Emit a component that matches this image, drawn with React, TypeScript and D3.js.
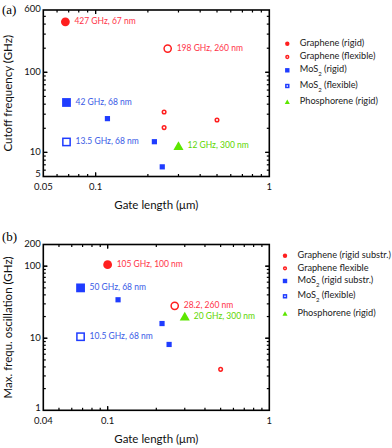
import React from "react";
import * as d3 from "d3";

// ---------- Data ----------
// Panel (a): cutoff frequency vs gate length
const aHighlights = [
  { series: "grRigid", x: 0.067, y: 427, label: "427 GHz, 67 nm" },
  { series: "grFlex", x: 0.26, y: 198, label: "198 GHz, 260 nm" },
  { series: "mosRigid", x: 0.068, y: 42, label: "42 GHz, 68 nm" },
  { series: "mosFlex", x: 0.068, y: 13.5, label: "13.5 GHz, 68 nm" },
  { series: "phos", x: 0.3, y: 12, label: "12 GHz, 300 nm" },
];
const aGrapheneFlexOthers = [
  { x: 0.248, y: 32 },
  { x: 0.248, y: 20.4 },
  { x: 0.5, y: 25.4 },
];
const aMoS2RigidOthers = [
  { x: 0.117, y: 26.4 },
  { x: 0.218, y: 13.6 },
  { x: 0.242, y: 6.6 },
];
const aXDomain = [0.05, 1];
const aYDomain = [5, 600];
const aXTickLabels = [0.05, 0.1, 1];
const aYTickLabels = [5, 10, 100, 600];
const aLegend = [
  { series: "grRigid", text: "Graphene (rigid)" },
  { series: "grFlex", text: "Graphene (flexible)" },
  { series: "mosRigid", text: "MoS|2| (rigid)" },
  { series: "mosFlex", text: "MoS|2| (flexible)" },
  { series: "phos", text: "Phosphorene (rigid)" },
];

// Panel (b): max frequency of oscillation vs gate length
const bHighlights = [
  { series: "grRigid", x: 0.1, y: 105, label: "105 GHz, 100 nm" },
  { series: "grFlex", x: 0.26, y: 28.2, label: "28.2, 260 nm" },
  { series: "mosRigid", x: 0.068, y: 50, label: "50 GHz, 68 nm" },
  { series: "mosFlex", x: 0.068, y: 10.5, label: "10.5 GHz, 68 nm" },
  { series: "phos", x: 0.3, y: 20, label: "20 GHz, 300 nm" },
];
const bGrapheneFlexOthers = [{ x: 0.5, y: 3.7 }];
const bMoS2RigidOthers = [
  { x: 0.116, y: 34.2 },
  { x: 0.217, y: 16 },
  { x: 0.24, y: 8.2 },
];
const bXDomain = [0.04, 1];
const bYDomain = [1, 200];
const bXTickLabels = [0.04, 0.1, 1];
const bYTickLabels = [1, 10, 100, 200];
const bLegend = [
  { series: "grRigid", text: "Graphene (rigid substr.)" },
  { series: "grFlex", text: "Graphene flexible" },
  { series: "mosRigid", text: "MoS|2| (rigid substr.)" },
  { series: "mosFlex", text: "MoS|2| (flexible)" },
  { series: "phos", text: "Phosphorene (rigid)" },
];

// ---------- Styles ----------
const RED = "#ff1f1f";
const RED_TXT = "#ff3348";
const BLUE = "#1f3cff";
const BLUE_TXT = "#3a5be6";
const GREEN = "#5de600";
const GREEN_TXT = "#5ed600";
const FONT = "Lato, 'Open Sans', sans-serif";

const seriesColor: Record<string, string> = {
  grRigid: RED, grFlex: RED, mosRigid: BLUE, mosFlex: BLUE, phos: GREEN,
};
const seriesText: Record<string, string> = {
  grRigid: RED_TXT, grFlex: RED_TXT, mosRigid: BLUE_TXT, mosFlex: BLUE_TXT, phos: GREEN_TXT,
};

function Marker({ series, cx, cy, size }: { series: string; cx: number; cy: number; size: number }) {
  const c = seriesColor[series];
  if (series === "grRigid") return <circle cx={cx} cy={cy} r={size} fill={c} />;
  if (series === "grFlex")
    return <circle cx={cx} cy={cy} r={size - 0.8} fill="white" stroke={c} strokeWidth={1.5} />;
  if (series === "mosRigid")
    return <rect x={cx - size} y={cy - size} width={size * 2} height={size * 2} fill={c} />;
  if (series === "mosFlex")
    return (
      <rect x={cx - size + 0.75} y={cy - size + 0.75} width={size * 2 - 1.5} height={size * 2 - 1.5}
        fill="white" stroke={c} strokeWidth={1.5} />
    );
  const h = size * 2;
  const w = size * 2.3;
  const p = d3.path();
  p.moveTo(cx, cy - h * 0.55);
  p.lineTo(cx + w / 2, cy + h * 0.45);
  p.lineTo(cx - w / 2, cy + h * 0.45);
  p.closePath();
  return <path d={p.toString()} fill={c} />;
}

function LegendText({ x, y, text }: { x: number; y: number; text: string }) {
  const parts = text.split("|");
  return (
    <text x={x} y={y} fontSize={9.2} fontFamily={FONT} fill="#222" dominantBaseline="middle">
      {parts.length === 1 ? text : (
        <>
          <tspan>{parts[0]}</tspan>
          <tspan fontSize={6} dy={3.5}>{parts[1]}</tspan>
          <tspan dy={-3.5}>{parts[2]}</tspan>
        </>
      )}
    </text>
  );
}

type Pt = { x: number; y: number };
type HL = { series: string; x: number; y: number; label: string };

function Panel(props: {
  top: number; bottom: number; left: number; right: number;
  xDomain: number[]; yDomain: number[];
  xTickLabels: number[]; yTickLabels: number[];
  highlights: HL[]; grFlexOthers: Pt[]; mosOthers: Pt[];
  legend: { series: string; text: string }[];
  legendX: number; legendYs: number[];
  yTitle: string; panelLabel: string; panelLabelY: number; xTitleY: number;
}) {
  const { top, bottom, left, right } = props;
  const x = d3.scaleLog().domain(props.xDomain).range([left, right]);
  const y = d3.scaleLog().domain(props.yDomain).range([bottom, top]);

  const xMinor: number[] = [];
  const [x0, x1] = props.xDomain;
  for (let dec = Math.pow(10, Math.floor(Math.log10(x0))); dec < x1; dec *= 10) {
    for (let k = 1; k <= 10; k++) {
      const v = +(k * dec).toPrecision(6);
      if (v > x0 * 1.0001 && v < x1 * 0.9999) xMinor.push(v);
    }
  }
  const yMinor: number[] = [];
  const [y0, y1] = props.yDomain;
  for (let dec = Math.pow(10, Math.floor(Math.log10(y0))); dec < y1; dec *= 10) {
    for (let k = 1; k <= 10; k++) {
      const v = +(k * dec).toPrecision(6);
      if (v > y0 * 1.0001 && v < y1 * 0.9999) yMinor.push(v);
    }
  }
  const isMajor = (v: number) => Math.abs(Math.log10(v) - Math.round(Math.log10(v))) < 1e-6;

  const ticks: JSX.Element[] = [];
  xMinor.forEach((v, i) => {
    const L = isMajor(v) ? 4 : 2.5;
    const px = x(v);
    ticks.push(<line key={"xb" + i} x1={px} x2={px} y1={bottom} y2={bottom - L} stroke="#000" strokeWidth={1.2} />);
    ticks.push(<line key={"xt" + i} x1={px} x2={px} y1={top} y2={top + L} stroke="#000" strokeWidth={1.2} />);
  });
  yMinor.forEach((v, i) => {
    const L = isMajor(v) ? 4 : 2.5;
    const py = y(v);
    ticks.push(<line key={"yl" + i} x1={left} x2={left + L} y1={py} y2={py} stroke="#000" strokeWidth={1.2} />);
    ticks.push(<line key={"yr" + i} x1={right} x2={right - L} y1={py} y2={py} stroke="#000" strokeWidth={1.2} />);
  });

  const cy = (top + bottom) / 2;
  const cx = (left + right) / 2;

  return (
    <g>
      <text x={2} y={props.panelLabelY} fontSize={13} fontFamily="'Liberation Serif', serif" fill="#000">
        {props.panelLabel}
      </text>
      {ticks}
      <rect x={left} y={top} width={right - left} height={bottom - top} fill="none" stroke="#000" strokeWidth={1.6} />
      {props.xTickLabels.map((v) => (
        <text key={"xl" + v} x={x(v)} y={bottom + 13.5} fontSize={9.5} fontFamily={FONT} textAnchor="middle" fill="#111">
          {String(v)}
        </text>
      ))}
      {props.yTickLabels.map((v, i) => (
        <text key={"yl" + v} x={left - 2.5} y={y(v) - (i === 0 ? 1.5 : 0)} fontSize={9.5} fontFamily={FONT}
          textAnchor="end" dominantBaseline="middle" fill="#111">
          {String(v)}
        </text>
      ))}
      <text x={cx} y={props.xTitleY} fontSize={11.5} fontFamily={FONT} textAnchor="middle" fill="#111">
        Gate length (μm)
      </text>
      <text transform={`translate(12,${cy}) rotate(-90)`} fontSize={11.5} fontFamily={FONT} textAnchor="middle" fill="#111">
        {props.yTitle}
      </text>
      {props.grFlexOthers.map((d, i) => (
        <Marker key={"gf" + i} series="grFlex" cx={x(d.x)} cy={y(d.y)} size={2.6} />
      ))}
      {props.mosOthers.map((d, i) => (
        <Marker key={"mr" + i} series="mosRigid" cx={x(d.x)} cy={y(d.y)} size={2.6} />
      ))}
      {props.highlights.map((d, i) => (
        <g key={"h" + i}>
          <Marker series={d.series} cx={x(d.x)} cy={y(d.y)} size={4.4} />
          <text x={x(d.x) + 9} y={y(d.y)} fontSize={8.5} fontFamily={FONT} fill={seriesText[d.series]}
            dominantBaseline="middle">
            {d.label}
          </text>
        </g>
      ))}
      {props.legend.map((d, i) => (
        <g key={"lg" + i}>
          <Marker series={d.series} cx={props.legendX} cy={props.legendYs[i]} size={2.2} />
          <LegendText x={props.legendX + 12.5} y={props.legendYs[i]} text={d.text} />
        </g>
      ))}
    </g>
  );
}

export default function App() {
  return (
    <svg width={392} height={448} style={{ position: "absolute", left: 0, top: 0, background: "#fff" }}>
      <rect width={392} height={448} fill="#fff" />
      <Panel top={10} bottom={176.5} left={43.3} right={269.3}
        xDomain={aXDomain} yDomain={aYDomain}
        xTickLabels={aXTickLabels} yTickLabels={aYTickLabels}
        highlights={aHighlights} grFlexOthers={aGrapheneFlexOthers} mosOthers={aMoS2RigidOthers}
        legend={aLegend} legendX={287.3} legendYs={[43.7, 57, 70.3, 86, 102]}
        yTitle="Cutoff frequency (GHz)" panelLabel="(a)" panelLabelY={14} xTitleY={209} />
      <Panel top={244.5} bottom={410.3} left={43.3} right={269.3}
        xDomain={bXDomain} yDomain={bYDomain}
        xTickLabels={bXTickLabels} yTickLabels={bYTickLabels}
        highlights={bHighlights} grFlexOthers={bGrapheneFlexOthers} mosOthers={bMoS2RigidOthers}
        legend={bLegend} legendX={285} legendYs={[255.7, 268.3, 281, 296.3, 313.7]}
        yTitle="Max. frequ. oscillation (GHz)" panelLabel="(b)" panelLabelY={241} xTitleY={443} />
    </svg>
  );
}
